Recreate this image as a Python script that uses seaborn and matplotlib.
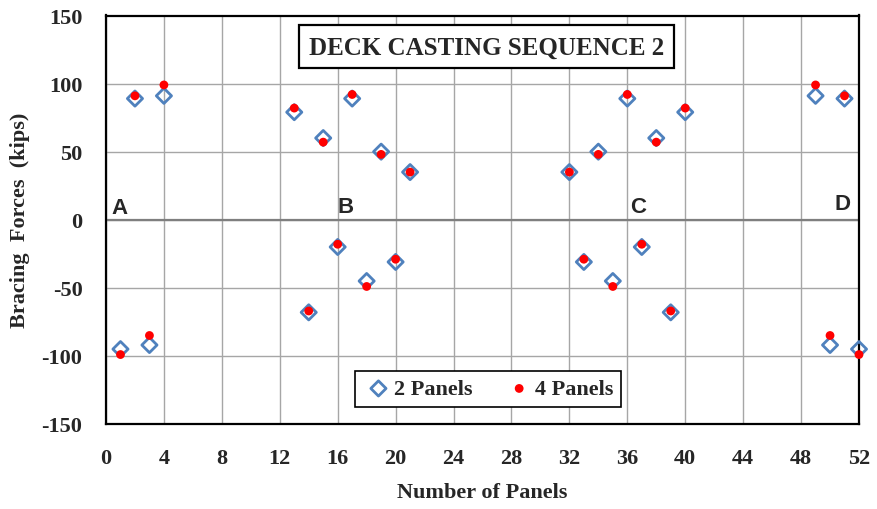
import pandas as pd
import seaborn as sns
import matplotlib.pyplot as plt

# Данные: номер панели и усилия в связях (kips)
panels = [1, 2, 3, 4, 13, 14, 15, 16, 17, 18, 19, 20, 21,
          32, 33, 34, 35, 36, 37, 38, 39, 40, 49, 50, 51, 52]
forces_2 = [-95, 89, -92, 91, 79, -68, 60, -20, 89, -45, 50, -31, 35,
            35, -31, 50, -45, 89, -20, 60, -68, 79, 91, -92, 89, -95]
forces_4 = [-99, 91, -85, 99, 82, -67, 57, -18, 92, -49, 48, -29, 35,
            35, -29, 48, -49, 92, -18, 57, -67, 82, 99, -85, 91, -99]

point_labels = ['A', 'B', 'C', 'D']
label_x = [0.4, 16.0, 36.2, 50.3]
label_y = [9, 10, 10, 12]

x_ticks = list(range(0, 53, 4))
y_ticks = list(range(-150, 151, 50))

df2 = pd.DataFrame({'Panel': panels, 'Force': forces_2})
df4 = pd.DataFrame({'Panel': panels, 'Force': forces_4})

sns.set_style('white')
plt.rcParams['font.family'] = ['Liberation Serif', 'DejaVu Serif']
plt.rcParams['axes.unicode_minus'] = False

fig = plt.figure(figsize=(8.77, 5.1), dpi=100)
ax = fig.add_axes([106 / 877, 1 - 425 / 510, (859 - 106) / 877, (425 - 16.5) / 510])

# сетка
for xt in x_ticks:
    ax.axvline(xt, color='#A6A6A6', lw=1.0, zorder=0)
for yt in y_ticks:
    ax.axhline(yt, color='#A6A6A6', lw=1.0, zorder=0)
ax.axhline(0, color='#7F7F7F', lw=1.6, zorder=1)

sns.scatterplot(data=df2, x='Panel', y='Force', ax=ax, marker='D', s=60,
                facecolor='none', edgecolor='#4F81BD', linewidth=2.0,
                label='2 Panels', zorder=3, clip_on=False)
sns.scatterplot(data=df4, x='Panel', y='Force', ax=ax, marker='o', s=40,
                color='#FF0000', edgecolor='none', label='4 Panels', zorder=4,
                clip_on=False)

ax.set_xlim(0, 52)
ax.set_ylim(-150, 150)
ax.set_xticks(x_ticks)
ax.set_yticks(y_ticks)
ax.tick_params(length=0, labelsize=16)
for lab in ax.get_xticklabels() + ax.get_yticklabels():
    lab.set_fontweight('bold')
ax.tick_params(axis='y', pad=17)
ax.tick_params(axis='x', pad=17)

for sp in ax.spines.values():
    sp.set_visible(True)
    sp.set_color('black')
    sp.set_linewidth(1.6)

ax.set_xlabel('Number of Panels', fontsize=16, fontweight='bold', labelpad=10)
ax.set_ylabel('Bracing  Forces  (kips)', fontsize=16, fontweight='bold', labelpad=8)

for t, x, y in zip(point_labels, label_x, label_y):
    ax.text(x, y, t, fontsize=16, fontweight='bold', family=['Liberation Sans', 'DejaVu Sans'],
            ha='left', va='center', zorder=5)

ax.text(0.505, 0.923, 'DECK CASTING SEQUENCE 2', transform=ax.transAxes,
        fontsize=18, fontweight='bold', ha='center', va='center', zorder=6,
        bbox=dict(boxstyle='square,pad=0.4', facecolor='white', edgecolor='black', linewidth=1.6))

leg = ax.legend(loc='center', bbox_to_anchor=(488 / 877, 1 - 390 / 510),
                bbox_transform=fig.transFigure, ncol=2, frameon=True, fancybox=False,
                prop={'size': 16, 'weight': 'bold'}, handletextpad=0.0,
                handlelength=1.4, columnspacing=1.4, borderpad=0.35)
leg.get_frame().set_edgecolor('black')
leg.get_frame().set_linewidth(1.2)
leg.get_frame().set_alpha(1)

fig.savefig('out.png', dpi=100)
